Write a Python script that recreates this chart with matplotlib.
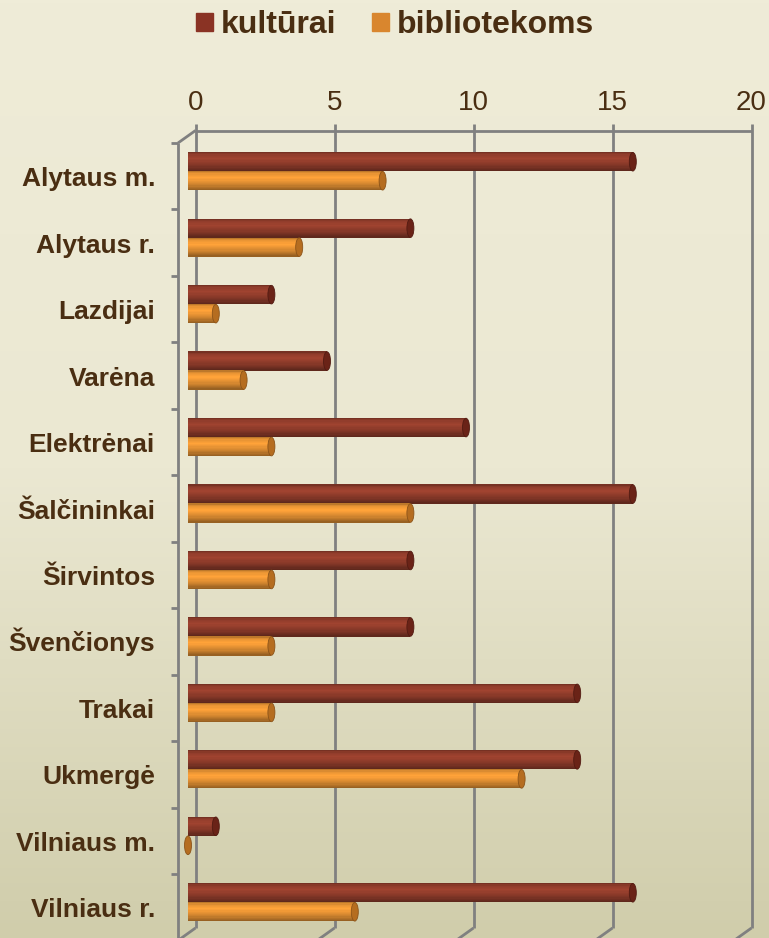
import numpy as np
import matplotlib
matplotlib.use("Agg")
import matplotlib.pyplot as plt
from matplotlib.patches import Ellipse, Patch
from matplotlib.transforms import ScaledTranslation, blended_transform_factory
from matplotlib.colors import to_rgb, LinearSegmentedColormap

plt.rcParams['font.family'] = ['Liberation Sans', 'DejaVu Sans']

# data
categories = ['Alytaus m.', 'Alytaus r.', 'Lazdijai', 'Varėna', 'Elektrėnai',
              'Šalčininkai', 'Širvintos', 'Švenčionys', 'Trakai', 'Ukmergė',
              'Vilniaus m.', 'Vilniaus r.']
kulturai = [16, 8, 3, 5, 10, 16, 8, 8, 14, 14, 1, 16]
bibliotekoms = [7, 4, 1, 2, 3, 8, 3, 3, 3, 12, 0, 6]
series_names = ['kultūrai', 'bibliotekoms']
xticks = [0, 5, 10, 15, 20]

col_kult = '#973f2d'
col_bibl = '#f29a36'
cap_kult = '#6a2317'
cap_bibl = '#b56d20'
txt = '#4a2e12'
grid = '#808080'

W, H, DPI = 769, 938, 100
fig = plt.figure(figsize=(W / DPI, H / DPI), dpi=DPI)

# background gradient
bg = fig.add_axes([0, 0, 1, 1], zorder=-10)
cmap = LinearSegmentedColormap.from_list('bg', ['#efecd8', '#ebe8d2', '#d0cdab'])
bg.imshow(np.linspace(0, 1, 256).reshape(-1, 1), cmap=cmap, aspect='auto',
          extent=[0, 1, 0, 1])
bg.axis('off')

# bar plane axes (pixel geometry)
x0, y_top, y_bot = 188, 138, 935.5
ax = fig.add_axes([x0 / W, (H - y_bot) / H, 556 / W, (y_bot - y_top) / H])
ax.set_xlim(0, 20)
ax.set_ylim(len(categories) - 0.5, -0.5)
ax.axis('off')

px = lambda dx, dy: ScaledTranslation(dx / DPI, dy / DPI, fig.dpi_scale_trans)
back = ax.transData + px(7.5, 7.5)
front = ax.transData + px(-10, -5)

n = len(categories)
yb, yt = n - 0.5, -0.5

# back wall gridlines + top border + small ticks on top
lk = dict(color=grid, lw=2.0, solid_capstyle='butt', clip_on=False)
tick_up = 7 / ((y_bot - y_top) / n)
for v in xticks:
    ax.plot([v, v], [yb, yt - tick_up], transform=back, **lk)
ax.plot([0, 20], [yt, yt], transform=back, **lk)


def wire(t1, t2, pt):
    p1 = t1.transform(pt); p2 = t2.transform(pt)
    fig.add_artist(plt.Line2D([p1[0] / W, p2[0] / W], [p1[1] / H, p2[1] / H],
                              transform=fig.transFigure, **lk))


# floor depth lines
for v in xticks:
    wire(back, front, (v, yb))
# left wall
ax.plot([0, 0], [yt, yb], transform=front, **lk)
wire(back, front, (0, yt))
left_tick = front + px(-7, 0)
for b in np.arange(-0.5, n, 1.0):
    wire(front, left_tick, (0, b))

# tick labels on top of back wall
tl = blended_transform_factory(ax.transData, ax.transAxes) + px(7.5, 28)
for v in xticks:
    ax.text(v, 1, str(v), transform=tl, ha='center', va='baseline',
            fontsize=20, color=txt)

# category labels
lab_t = ax.transData + px(-33, -15)
for i, c in enumerate(categories):
    ax.text(0, i, c, transform=lab_t, ha='right', va='baseline',
            fontsize=19, fontweight='bold', color=txt)


def shade(base, t):
    f = np.interp(t, [0, 0.12, 0.35, 0.7, 1.0], [0.72, 0.95, 1.06, 0.86, 0.6])
    return tuple(np.clip(np.array(to_rgb(base)) * f, 0, 1))


# cylinder bars: horizontal strips with shading, rounded back end, end cap
bh = 0.286
nstrip = 16
y = np.arange(n)
cap_w = 7 / 27.8
for vals, off, base, capc in [(kulturai, -bh / 2, col_kult, cap_kult),
                              (bibliotekoms, bh / 2, col_bibl, cap_bibl)]:
    yc = y + off
    vals = np.asarray(vals, dtype=float)
    for k in range(nstrip):
        t = (k + 0.5) / nstrip
        hw = cap_w / 2 * np.sqrt(max(0.0, 1 - (2 * t - 1) ** 2))
        ax.barh(yc - bh / 2 + t * bh, vals + hw, height=bh / nstrip * 1.2,
                left=-hw, color=shade(base, t), linewidth=0, zorder=3)
    for i in range(n):
        ax.add_patch(Ellipse((vals[i], yc[i]), cap_w, bh * 0.98, facecolor=capc,
                             edgecolor=shade(capc, 0.8), lw=0.6, zorder=4,
                             clip_on=False))

# legend
handles = [Patch(color='#8a3324'), Patch(color='#d9862e')]
fig.legend(handles, series_names, loc='center', bbox_to_anchor=(395 / W, 1 - 25 / H),
           ncol=2, frameon=False, prop=dict(size=23, weight='bold'),
           handlelength=0.53, handleheight=0.5, handletextpad=0.25,
           columnspacing=1.1, labelcolor=txt)

fig.savefig('out.png', dpi=DPI)
